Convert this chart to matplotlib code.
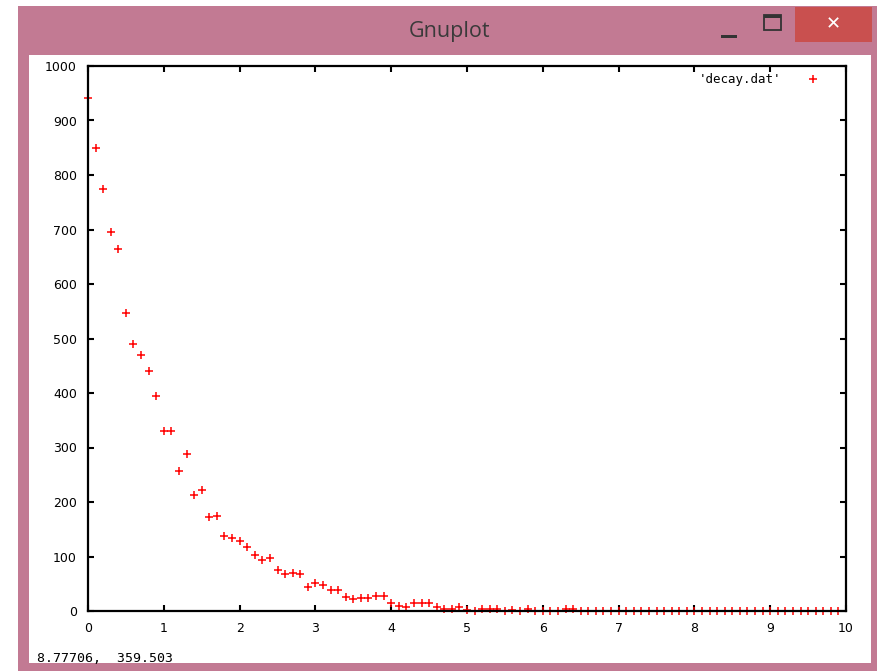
import matplotlib
matplotlib.use("Agg")
import matplotlib.pyplot as plt
from matplotlib.patches import Rectangle

W, H = 877, 671

# data
x_vals = [0.0, 0.1, 0.2, 0.3, 0.4, 0.5, 0.6, 0.7, 0.8, 0.9,
          1.0, 1.1, 1.2, 1.3, 1.4, 1.5, 1.6, 1.7, 1.8, 1.9,
          2.0, 2.1, 2.2, 2.3, 2.4, 2.5, 2.6, 2.7, 2.8, 2.9,
          3.0, 3.1, 3.2, 3.3, 3.4, 3.5, 3.6, 3.7, 3.8, 3.9,
          4.0, 4.1, 4.2, 4.3, 4.4, 4.5, 4.6, 4.7, 4.8, 4.9,
          5.0, 5.1, 5.2, 5.3, 5.4, 5.5, 5.6, 5.7, 5.8, 5.9,
          6.0, 6.1, 6.2, 6.3, 6.4, 6.5, 6.6, 6.7, 6.8, 6.9,
          7.0, 7.1, 7.2, 7.3, 7.4, 7.5, 7.6, 7.7, 7.8, 7.9,
          8.0, 8.1, 8.2, 8.3, 8.4, 8.5, 8.6, 8.7, 8.8, 8.9,
          9.0, 9.1, 9.2, 9.3, 9.4, 9.5, 9.6, 9.7, 9.8, 9.9]
y_vals = [941, 849, 774, 695, 664, 547, 490, 469, 440, 394,
          331, 331, 256, 288, 213, 222, 172, 174, 138, 134,
          129, 117, 102, 93, 97, 75, 68, 70, 68, 44,
          51, 47, 39, 39, 26, 22, 24, 24, 28, 28,
          15, 9, 7, 15, 14, 14, 7, 3, 3, 7,
          2, 0, 3, 3, 3, 0, 1, 0, 4, 0,
          0, 0, 0, 3, 3, 0, 0, 0, 0, 0,
          0, 0, 0, 0, 0, 0, 0, 0, 0, 0,
          0, 0, 0, 0, 0, 0, 0, 0, 0, 0,
          0, 0, 0, 0, 0, 0, 0, 0, 0, 0]
x_ticks = [0, 1, 2, 3, 4, 5, 6, 7, 8, 9, 10]
y_ticks = [0, 100, 200, 300, 400, 500, 600, 700, 800, 900, 1000]
series_name = "'decay.dat'"
status_text = "8.77706,  359.503"

pink = "#c27a93"

fig = plt.figure(figsize=(W / 100, H / 100), dpi=100)
fig.patch.set_facecolor("white")


def box(x0, y0, x1, y1, **kw):
    # rectangle given in screen pixels (top-left origin)
    r = Rectangle((x0 / W, 1 - y1 / H), (x1 - x0) / W, (y1 - y0) / H,
                  transform=fig.transFigure, zorder=0, **kw)
    fig.patches.append(r)


def px_text(x, y, s, **kw):
    fig.text(x / W, 1 - y / H, s, **kw)


# window frame
box(18, 6, W, H, facecolor=pink, edgecolor="none")
box(29, 55, 871, 663, facecolor="white", edgecolor="none")
# close button
box(795, 7, 872, 42, facecolor="#c9504f", edgecolor="none")
px_text(833, 24, "✕", color="white", fontsize=13, ha="center", va="center",
        family="DejaVu Sans")
# maximise / minimise
box(764, 15, 781, 30, facecolor="none", edgecolor="#333333", linewidth=1.3)
box(764, 15, 781, 18, facecolor="#333333", edgecolor="none")
box(721, 35, 737, 38, facecolor="#333333", edgecolor="none")
px_text(449, 32, "Gnuplot", color="#3a3a3a", fontsize=15.5, ha="center",
        va="center", family="Open Sans")

px_text(37, 658, status_text, fontsize=9.5, ha="left", va="center",
        family="DejaVu Sans Mono", color="black")

# plot area
ax = fig.add_axes([88 / W, 1 - 611 / H, (846 - 88) / W, (611 - 66) / H])
ax.set_zorder(3)
ax.plot(x_vals, y_vals, linestyle="none", marker="+", color="red",
        markersize=6, markeredgewidth=1.1, label=series_name, clip_on=False)
ax.set_xlim(0, 10)
ax.set_ylim(0, 1000)
ax.set_xticks(x_ticks)
ax.set_yticks(y_ticks)
ax.tick_params(direction="in", length=4, width=1.5, top=True, right=True,
               labelsize=9, pad=8)
for s in ax.spines.values():
    s.set_linewidth(1.6)

leg = ax.legend(loc="upper right", bbox_to_anchor=(1 - 16 / 758, 1),
                frameon=False, markerfirst=False,
                handlelength=1.5, handletextpad=1.8, borderaxespad=0.2,
                prop={"family": "DejaVu Sans Mono", "size": 9})

fig.savefig("out.png", dpi=100)
